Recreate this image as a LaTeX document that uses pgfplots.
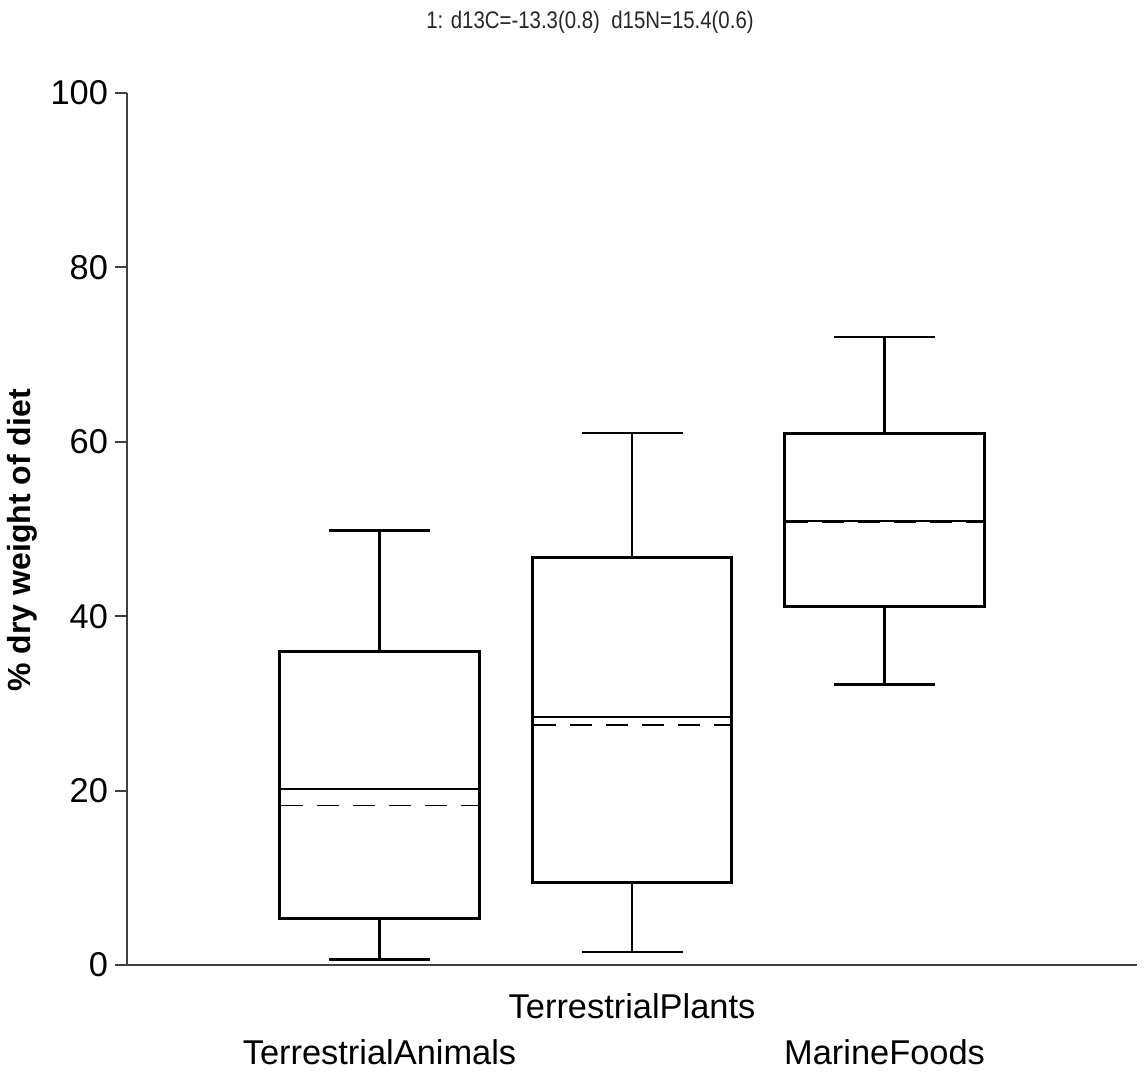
\documentclass[border=0pt]{standalone}
\usepackage{pgfplots}
\pgfplotsset{compat=1.18}
\usepgfplotslibrary{statistics}
\usepackage{fontspec}
\setmainfont{Liberation Sans}
\newfontfamily\narrowfont[FakeStretch=0.85]{Liberation Sans}
\begin{document}
\begin{tikzpicture}
\begin{axis}[
  at={(0pt,0pt)}, anchor=origin,
  scale only axis, width=505pt, height=436pt,
  xmin=0, xmax=4, ymin=0, ymax=100,
  axis x line*=bottom, axis y line*=left,
  axis line style={line width=1pt, black!75},
  ytick={0,20,...,100},
  xtick={1,2,3},
  xticklabels={{\rule{0pt}{40.3pt}TerrestrialAnimals},{\rule{0pt}{17.3pt}TerrestrialPlants},{\rule{0pt}{40.3pt}MarineFoods}},
  x tick style={draw=none},
  y tick style={line width=1pt, black!75},
  major tick length=6pt, tick align=outside,
  tick label style={font=\fontsize{17.2}{20}\selectfont},
  ylabel={\% dry weight of diet},
  ylabel style={font=\bfseries\fontsize{16}{19}\selectfont, at={(axis description cs:-0.104,0.487)}, anchor=center},
  /pgf/number format/assume math mode=true,
  boxplot/draw direction=y,
  boxplot/box extend=0.79,
  boxplot/whisker extend=0.4,
  boxplot/every box/.style={line width=1.5pt},
  boxplot/every whisker/.style={line width=1.3pt},
  boxplot/every median/.style={line width=0.9pt},
  clip=false,
]
\addplot[black, boxplot prepared={lower whisker=0.6, lower quartile=5.3, median=20.2, upper quartile=35.9, upper whisker=49.8, draw position=1}] coordinates {};
\addplot[black, boxplot prepared={lower whisker=1.5, lower quartile=9.5, median=28.4, upper quartile=46.7, upper whisker=61.0, draw position=2}] coordinates {};
\addplot[black, boxplot prepared={lower whisker=32.2, lower quartile=41.1, median=50.9, upper quartile=61.0, upper whisker=72.0, draw position=3}] coordinates {};
% means (dashed)
\addplot[black, line width=0.9pt, dash pattern=on 11pt off 7pt] coordinates {(0.61,18.3) (1.39,18.3)};
\addplot[black, line width=0.9pt, dash pattern=on 11pt off 7pt] coordinates {(1.61,27.5) (2.39,27.5)};
\addplot[black, line width=0.9pt, dash pattern=on 11pt off 7pt] coordinates {(2.61,50.8) (3.39,50.8)};
\end{axis}
\node[font=\narrowfont\fontsize{12}{14}\selectfont, text=black!85] at (231.5pt,471.5pt) {1: d13C=-13.3(0.8)\ \ d15N=15.4(0.6)};
\pgfresetboundingbox
\path (-63.5pt,-53pt) rectangle (508.5pt,482.5pt);
\end{tikzpicture}
\end{document}
